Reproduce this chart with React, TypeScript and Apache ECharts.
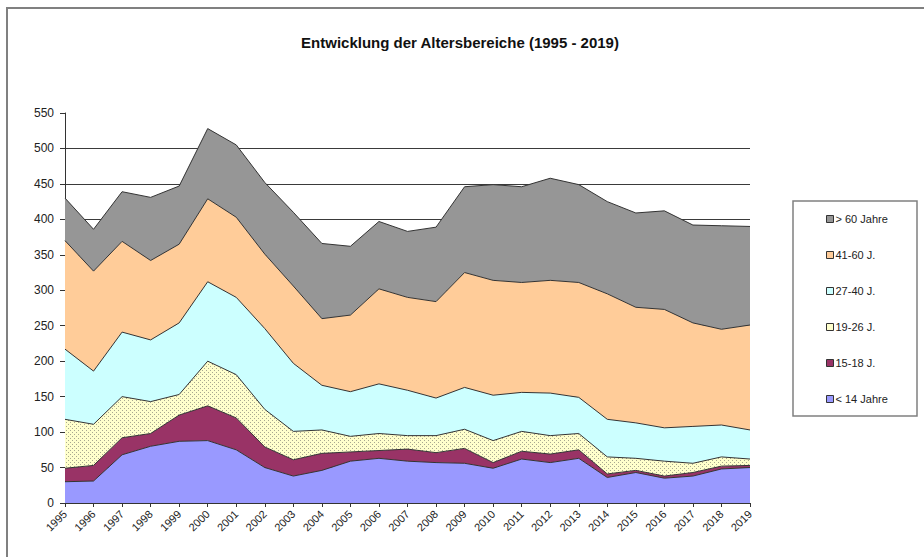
import React, { useEffect, useRef } from "react";
import * as echarts from "echarts";

const years = ["1995","1996","1997","1998","1999","2000","2001","2002","2003","2004","2005","2006","2007","2008","2009","2010","2011","2012","2013","2014","2015","2016","2017","2018","2019"];

const under14 = [30, 31, 68, 80, 87, 88, 75, 50, 38, 46, 59, 63, 59, 57, 56, 49, 62, 57, 63, 36, 43, 35, 38, 48, 50];
const age15_18 = [19, 22, 24, 18, 37, 49, 45, 29, 23, 24, 13, 11, 17, 14, 21, 8, 11, 12, 12, 5, 3, 3, 5, 4, 3];
const age19_26 = [69, 58, 58, 45, 29, 63, 61, 53, 40, 33, 22, 24, 19, 24, 27, 31, 28, 26, 23, 24, 17, 21, 13, 13, 9];
const age27_40 = [99, 75, 91, 87, 101, 112, 109, 114, 96, 63, 63, 70, 64, 53, 59, 64, 55, 60, 51, 53, 50, 47, 52, 45, 41];
const age41_60 = [153, 141, 128, 112, 111, 117, 113, 105, 109, 94, 108, 134, 131, 136, 162, 162, 155, 159, 162, 177, 163, 167, 146, 135, 148];
const over60 = [60, 59, 70, 89, 82, 99, 102, 101, 104, 106, 97, 95, 93, 105, 121, 135, 135, 144, 138, 130, 133, 139, 138, 146, 139];

const seriesNames = ["< 14 Jahre", "15-18 J.", "19-26 J.", "27-40 J.", "41-60 J.", "> 60 Jahre"];
const seriesValues = [under14, age15_18, age19_26, age27_40, age41_60, over60];
const seriesColors = ["#9999FF", "#993366", "#FFFFCC", "#CCFFFF", "#FFCC99", "#969696"];
const yTicks = [0, 50, 100, 150, 200, 250, 300, 350, 400, 450, 500, 550];

const FONT = "'Liberation Sans', Arial, Helvetica, sans-serif";

function makeDotPattern() {
  const c = document.createElement("canvas");
  c.width = 4;
  c.height = 4;
  const ctx = c.getContext("2d")!;
  ctx.fillStyle = "#FFFFCC";
  ctx.fillRect(0, 0, 4, 4);
  ctx.fillStyle = "#A8A890";
  ctx.fillRect(0, 0, 1, 1);
  ctx.fillRect(2, 2, 1, 1);
  return c;
}

export default function App() {
  const ref = useRef<HTMLDivElement>(null);
  useEffect(() => {
    if (!ref.current) return;
    const chart = echarts.init(ref.current, null, { renderer: "svg" });
    const pattern = makeDotPattern();
    const series = seriesNames.map((name, i) => ({
      name,
      type: "line",
      stack: "total",
      data: seriesValues[i],
      showSymbol: false,
      symbol: "none",
      lineStyle: { color: "#333333", width: 1 },
      itemStyle: { color: seriesColors[i] },
      areaStyle:
        i === 2
          ? { color: { image: pattern, repeat: "repeat", imageWidth: 4, imageHeight: 4 }, opacity: 1 }
          : { color: seriesColors[i], opacity: 1 },
      emphasis: { disabled: true },
    }));
    const legendData = seriesNames
      .map((name, i) => ({
        name,
        icon: "rect",
        itemStyle: { color: seriesColors[i], borderColor: "#333333", borderWidth: 1 },
      }))
      .reverse();
    chart.setOption({
      animation: false,
      backgroundColor: "#ffffff",
      title: {
        text: "Entwicklung der Altersbereiche (1995 - 2019)",
        left: 455,
        top: 30,
        textAlign: "center",
        textStyle: { fontFamily: FONT, fontSize: 15, fontWeight: "bold", color: "#111111" },
      },
      legend: {
        orient: "vertical",
        left: 826,
        top: 212,
        padding: 0,
        itemWidth: 7,
        itemHeight: 7,
        itemGap: 22,
        data: legendData,
        textStyle: { fontFamily: FONT, fontSize: 11, color: "#222222", lineHeight: 14, padding: [0, 0, 0, -3] },
        selectedMode: false,
      },
      grid: { left: 65, right: 174, top: 113, bottom: 54, containLabel: false },
      xAxis: {
        type: "category",
        data: years,
        boundaryGap: false,
        axisLine: { lineStyle: { color: "#333333", width: 1 } },
        axisTick: { show: true, length: 4, lineStyle: { color: "#333333" } },
        axisLabel: { rotate: 45, margin: 9, fontFamily: FONT, fontSize: 11, color: "#222222", interval: 0 },
        splitLine: { show: false },
      },
      yAxis: {
        type: "value",
        min: yTicks[0],
        max: yTicks[yTicks.length - 1],
        interval: 50,
        axisLine: { show: true, lineStyle: { color: "#333333", width: 1 } },
        axisTick: { show: true, length: 5, lineStyle: { color: "#333333" } },
        axisLabel: { margin: 11, fontFamily: FONT, fontSize: 12, color: "#222222" },
        splitLine: { show: true, showMaxLine: false, lineStyle: { color: "#3a3a3a", width: 1 } },
      },
      graphic: [
        {
          type: "rect",
          shape: { x: 7, y: 8, width: 940, height: 580 },
          style: { fill: "none", stroke: "#808080", lineWidth: 2 },
          silent: true,
        },
        {
          type: "rect",
          shape: { x: 793, y: 201, width: 124, height: 215 },
          style: { fill: "none", stroke: "#808080", lineWidth: 1.5 },
          silent: true,
        },
      ],
      series,
    });
    return () => chart.dispose();
  }, []);
  return <div ref={ref} style={{ position: "fixed", left: 0, top: 0, width: 924, height: 557 }} />;
}
